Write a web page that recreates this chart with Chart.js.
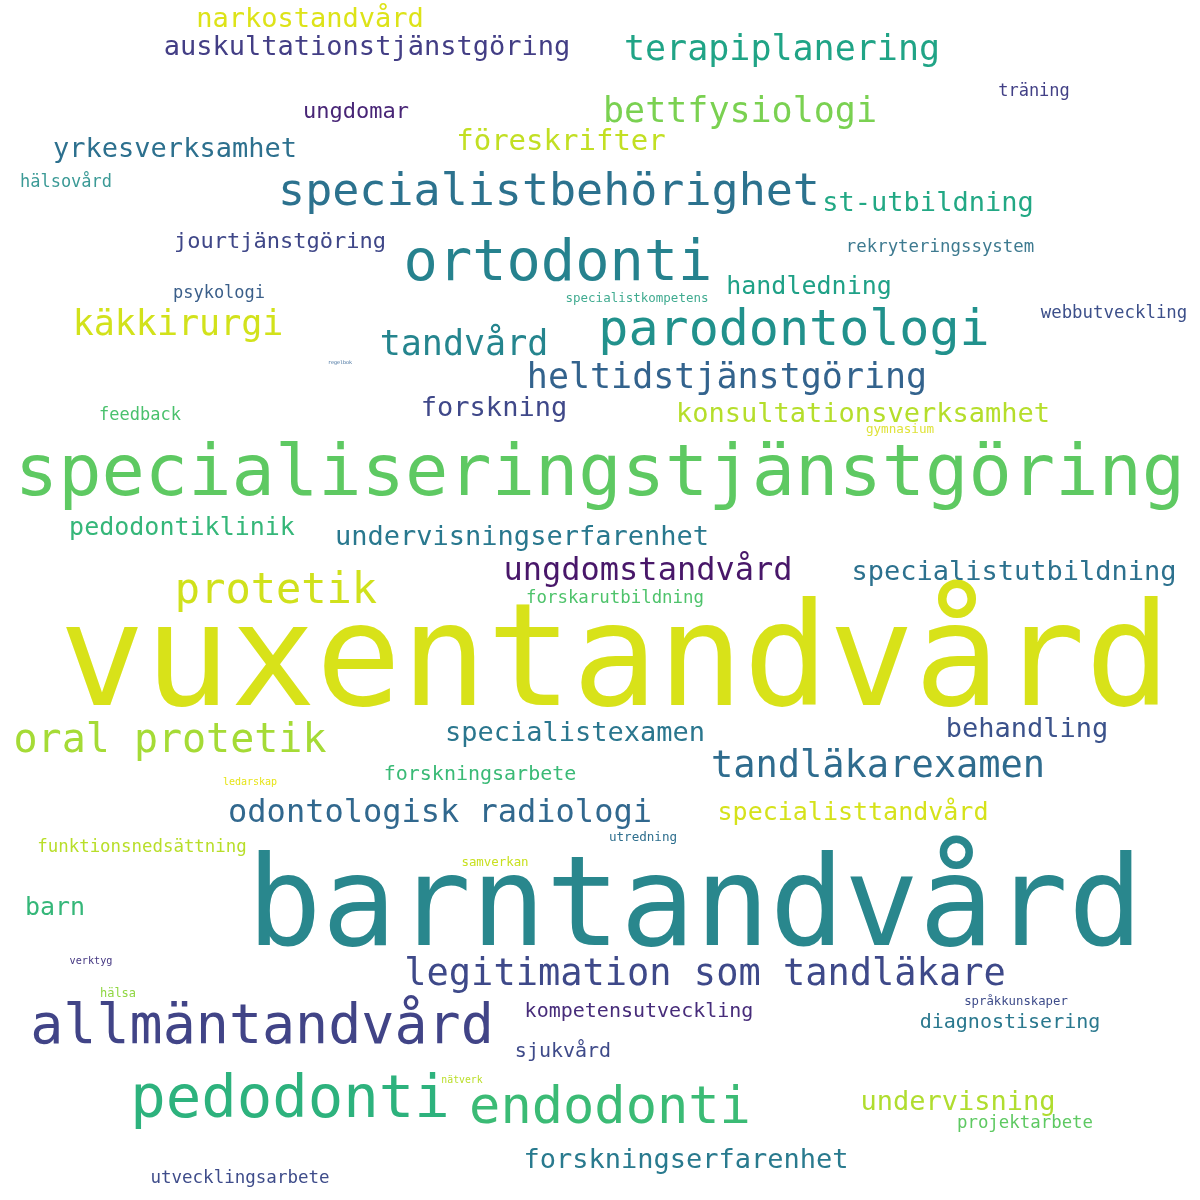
<!DOCTYPE html>
<html>
<head>
<meta charset="utf-8">
<script src="https://cdn.jsdelivr.net/npm/chart.js@4.4.1/dist/chart.umd.min.js"></script>
<style>
  html, body { margin: 0; padding: 0; background: #ffffff; }
  #cloud { display: block; }
</style>
</head>
<body>
<canvas id="cloud" width="1200" height="1200" style="width:1200px;height:1200px"></canvas>
<script>
// words of the cloud, with where they sit (x = centre, y = baseline) and their weight (font px)
const words = [
  "vuxentandvård", "barntandvård", "specialiseringstjänstgöring", "ortodonti",
  "specialistbehörighet", "parodontologi", "allmäntandvård", "pedodonti",
  "endodonti", "protetik", "oral protetik", "legitimation som tandläkare",
  "tandläkarexamen", "odontologisk radiologi", "terapiplanering", "bettfysiologi",
  "heltidstjänstgöring", "käkkirurgi", "tandvård", "ungdomstandvård",
  "auskultationstjänstgöring", "narkostandvård", "yrkesverksamhet", "ungdomar",
  "föreskrifter", "hälsovård", "st-utbildning", "jourtjänstgöring",
  "rekryteringssystem", "träning", "psykologi", "specialistkompetens",
  "handledning", "webbutveckling", "regelbok", "forskning",
  "konsultationsverksamhet", "feedback", "gymnasium", "pedodontiklinik",
  "undervisningserfarenhet", "specialistutbildning", "forskarutbildning", "behandling",
  "specialistexamen", "forskningsarbete", "ledarskap", "specialisttandvård",
  "funktionsnedsättning", "utredning", "samverkan", "barn",
  "verktyg", "hälsa", "kompetensutveckling", "språkkunskaper",
  "diagnostisering", "sjukvård", "nätverk", "undervisning",
  "projektarbete", "forskningserfarenhet", "utvecklingsarbete"
];

const xs = [
  615, 695, 600, 558,
  549, 794, 262, 290,
  610, 276, 170, 705,
  878, 440, 782, 740,
  727, 178, 464, 648,
  367, 310, 175, 356,
  561, 66, 928, 280,
  940, 1034, 219, 637,
  809, 1114, 340, 494,
  863, 140, 900, 182,
  522, 1014, 615, 1027,
  575, 480, 250, 853,
  142, 643, 495, 55,
  91, 118, 639, 1016,
  1010, 563, 462, 958,
  1025, 686, 240
];

const ys = [
  705, 945, 495, 280,
  205, 345, 1043, 1117,
  1123, 603, 752, 985,
  777, 822, 60, 122,
  388, 335, 355, 580,
  55, 27, 157, 118,
  150, 187, 211, 248,
  252, 96, 298, 302,
  294, 318, 364, 416,
  422, 420, 433, 535,
  545, 580, 603, 737,
  741, 780, 785, 820,
  852, 841, 866, 915,
  964, 997, 1017, 1005,
  1028, 1057, 1083, 1110,
  1128, 1168, 1183
];

const sizes = [
  142, 124, 72, 57,
  45, 50, 55, 59,
  52, 42, 40, 37,
  37, 32, 35, 35,
  35, 35, 35, 32,
  27, 27, 27, 22,
  29, 17, 27, 22,
  17.4, 17, 17, 12.5,
  25, 17.4, 5, 27,
  27, 17, 12.6, 25,
  27, 27, 17.4, 27,
  27, 20, 10, 25,
  17.4, 12.6, 12.4, 25,
  10.2, 12, 20, 12.3,
  20, 20, 9.8, 27,
  17.4, 27, 17.5
];

const colors = [
  "#d8e219", "#29878d", "#5ec962", "#26828e",
  "#2c728e", "#21918c", "#414487", "#2db27d",
  "#3bbb75", "#d0e11c", "#a5db36", "#3e4989",
  "#2f6c8e", "#31688e", "#20a486", "#7ad151",
  "#33638d", "#d2e21b", "#25858e", "#481769",
  "#433e85", "#dde318", "#2d708e", "#482576",
  "#c2df23", "#3b9a96", "#22a884", "#3f4788",
  "#3e7a90", "#424086", "#3b5f8a", "#40ab90",
  "#1fa187", "#3c4f8a", "#3e6c9b", "#3f4889",
  "#b5de2b", "#4ac16d", "#dfe33a", "#35b779",
  "#29788e", "#2c718e", "#4ec36b", "#3b528b",
  "#2a768e", "#3aba76", "#e6e419", "#d5e21a",
  "#b8de29", "#2e6f8e", "#c8e020", "#35b779",
  "#453882", "#90d743", "#472c7a", "#3e4c8a",
  "#2a788e", "#3e4a89", "#bade28", "#b0dd2f",
  "#5ec962", "#297a8e", "#3e4c8a"
];

const fontFamily = "'DejaVu Sans Mono', 'Liberation Mono', monospace";

// draws each word at its point, placed by the chart's own scales
const wordPlugin = {
  id: "wordPlugin",
  afterDatasetsDraw(chart) {
    const ctx = chart.ctx;
    const meta = chart.getDatasetMeta(0);
    ctx.save();
    ctx.textAlign = "center";
    ctx.textBaseline = "alphabetic";
    meta.data.forEach(function (pt, i) {
      ctx.font = sizes[i] + "px " + fontFamily;
      ctx.fillStyle = colors[i];
      ctx.fillText(words[i], pt.x, pt.y);
    });
    ctx.restore();
  }
};

const points = words.map(function (w, i) {
  return { x: xs[i], y: ys[i] };
});

new Chart(document.getElementById("cloud").getContext("2d"), {
  type: "scatter",
  data: {
    datasets: [{
      label: "ord",
      data: points,
      pointRadius: 0,
      pointHoverRadius: 0,
      backgroundColor: "transparent",
      borderColor: "transparent"
    }]
  },
  options: {
    responsive: false,
    animation: false,
    devicePixelRatio: 1,
    layout: { padding: 0 },
    plugins: {
      legend: { display: false },
      tooltip: { enabled: false }
    },
    scales: {
      x: { type: "linear", min: 0, max: 1200, display: false },
      y: { type: "linear", min: 0, max: 1200, reverse: true, display: false }
    }
  },
  plugins: [wordPlugin]
});
</script>
</body>
</html>
